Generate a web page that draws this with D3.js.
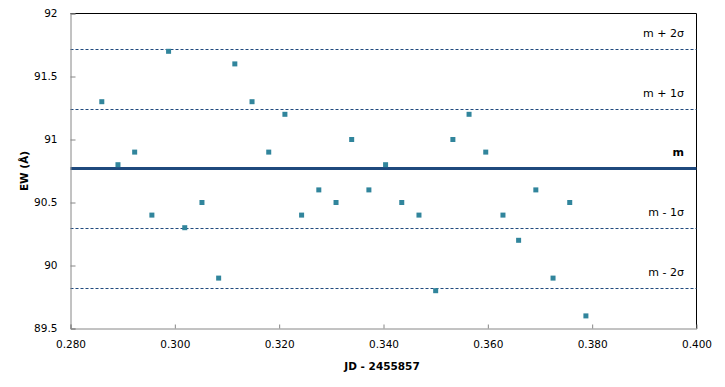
<!DOCTYPE html>
<head>
  <meta charset="utf-8">
  <script src="https://d3js.org/d3.v7.min.js"></script>
  <style>
    body { margin:0; background:white; }
    svg { display:block; }
    text { font-family: "DejaVu Sans", sans-serif; }
  </style>
</head>
<body>
<script>
// observation times (JD - 2455857) and equivalent widths
var jd = [0.2860, 0.2891, 0.2923, 0.2956, 0.2988, 0.3019, 0.3052, 0.3084, 0.3115, 0.3148,
          0.3180, 0.3211, 0.3243, 0.3276, 0.3309, 0.3339, 0.3372, 0.3404, 0.3435, 0.3468,
          0.3500, 0.3533, 0.3564, 0.3596, 0.3629, 0.3659, 0.3692, 0.3725, 0.3757, 0.3788];
var ew = [91.3, 90.8, 90.9, 90.4, 91.7, 90.3, 90.5, 89.9, 91.6, 91.3,
          90.9, 91.2, 90.4, 90.6, 90.5, 91.0, 90.6, 90.8, 90.5, 90.4,
          89.8, 91.0, 91.2, 90.9, 90.4, 90.2, 90.6, 89.9, 90.5, 89.6];

// mean and sigma reference lines
var refLabels = ["m + 2\u03c3", "m + 1\u03c3", "m", "m - 1\u03c3", "m - 2\u03c3"];
var refValues = [91.72, 91.245, 90.77, 90.295, 89.82];

var xTicks = [0.28, 0.30, 0.32, 0.34, 0.36, 0.38, 0.40];
var yTicks = [89.5, 90, 90.5, 91, 91.5, 92];

var width = 725, height = 387;
var pLeft = 70.5, pRight = 696.5, pTop = 13.5, pBottom = 328.5;

var svg = d3.select("body").append("svg")
  .attr("width", width)
  .attr("height", height);

var x = d3.scaleLinear().domain([0.28, 0.40]).range([pLeft, pRight]);
var y = d3.scaleLinear().domain([89.5, 92]).range([pBottom, pTop]);

// plot border (top and right)
svg.append("path")
  .attr("d", "M" + pLeft + "," + pTop + "H" + pRight + "V" + pBottom)
  .attr("fill", "none")
  .attr("stroke", "#000")
  .attr("stroke-width", 1);

// reference lines
svg.selectAll(".ref").data(refValues).enter()
  .append("line")
  .attr("x1", pLeft).attr("x2", pRight)
  .attr("y1", function(d) { return Math.round(y(d)) + 0.5; })
  .attr("y2", function(d) { return Math.round(y(d)) + 0.5; })
  .attr("stroke", "#1F497D")
  .attr("stroke-width", function(d, i) { return refLabels[i] == "m" ? 3 : 1; })
  .attr("stroke-dasharray", function(d, i) { return refLabels[i] == "m" ? null : "3,2"; });

svg.selectAll(".reflabel").data(refValues).enter()
  .append("text")
  .attr("x", 684)
  .attr("y", function(d) { return y(d) - 12; })
  .attr("text-anchor", "end")
  .attr("font-size", "11px")
  .attr("font-weight", function(d, i) { return refLabels[i] == "m" ? "bold" : "normal"; })
  .attr("fill", "#000")
  .text(function(d, i) { return refLabels[i]; });

// axes
var xAxis = d3.axisBottom(x).tickValues(xTicks).tickSize(-4).tickPadding(12)
  .tickFormat(d3.format(".3f"));
var yAxis = d3.axisLeft(y).tickValues(yTicks).tickSize(-5).tickPadding(13)
  .tickFormat(function(d) { return d; });

var gx = svg.append("g").attr("transform", "translate(0," + pBottom + ")").call(xAxis);
var gy = svg.append("g").attr("transform", "translate(" + pLeft + ",0)").call(yAxis);

[gx, gy].forEach(function(g) {
  g.select(".domain").attr("stroke", "#868686");
  g.selectAll(".tick line").attr("stroke", "#868686");
  g.selectAll(".tick text").attr("fill", "#000").attr("font-size", "10.5px")
    .attr("font-family", "DejaVu Sans");
});
gx.selectAll(".tick:last-of-type line").remove();

// points
svg.selectAll(".pt").data(jd).enter()
  .append("rect")
  .attr("x", function(d) { return x(d) - 2.5; })
  .attr("y", function(d, i) { return y(ew[i]) - 2.5; })
  .attr("width", 5)
  .attr("height", 5)
  .attr("fill", "#31859C");

// axis titles
svg.append("text")
  .attr("x", 382).attr("y", 370)
  .attr("text-anchor", "middle")
  .attr("font-size", "10.5px")
  .attr("font-weight", "bold")
  .text("JD - 2455857");

svg.append("text")
  .attr("transform", "translate(28,171)rotate(-90)")
  .attr("text-anchor", "middle")
  .attr("font-size", "10.5px")
  .attr("font-weight", "bold")
  .text("EW (\u00c5)");
</script>
</body>
